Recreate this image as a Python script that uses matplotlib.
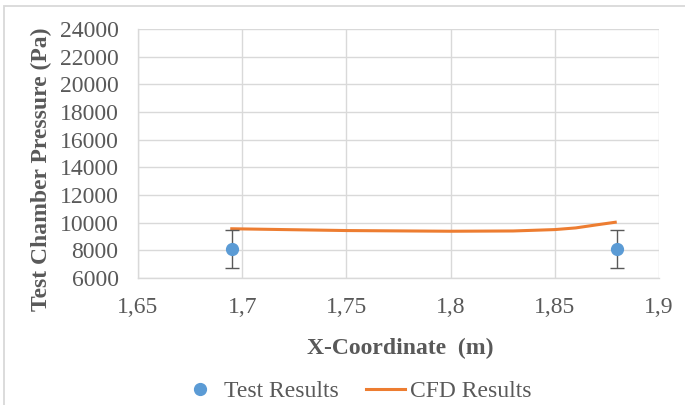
import matplotlib
matplotlib.use("Agg")
import matplotlib.pyplot as plt
from matplotlib.ticker import FuncFormatter
from matplotlib.patches import Rectangle
from matplotlib.lines import Line2D

# Measured pressures with error
test_x = [1.695, 1.880]
test_p = [8100, 8100]
test_err = [1400, 1400]

# CFD pressure along the test chamber
cfd_x = [1.695, 1.72, 1.75, 1.78, 1.80, 1.83, 1.85, 1.86, 1.87, 1.879]
cfd_p = [9560, 9500, 9430, 9400, 9380, 9400, 9500, 9620, 9840, 10030]

x_ticks = [1.65, 1.70, 1.75, 1.80, 1.85, 1.90]
y_ticks = list(range(6000, 24001, 2000))

grey = "#595959"
grid = "#d9d9d9"
blue = "#5b9bd5"
orange = "#ed7d31"
serif = ["Liberation Serif", "DejaVu Serif"]
fs = 17

W, H = 685, 405
fig = plt.figure(figsize=(W / 100, H / 100), dpi=100)
fig.patches.append(Rectangle((4 / W, -0.01), 1.0, 1 - 6 / H + 0.01,
                             transform=fig.transFigure, fill=False,
                             edgecolor=grid, linewidth=1.3))

ax = fig.add_axes([138 / W, 1 - 278 / H, (659 - 138) / W, (278 - 29) / H])

ax.plot(cfd_x, cfd_p, color=orange, linewidth=2.2, zorder=3)
ax.errorbar(test_x, test_p, yerr=test_err, fmt="o", color=blue,
            markersize=8.5, ecolor=grey, elinewidth=1, capsize=5, capthick=1,
            zorder=4)

ax.set_xlim(1.65, 1.90)
ax.set_ylim(6000, 24000)
ax.set_xticks(x_ticks)
ax.set_yticks(y_ticks)
ax.xaxis.set_major_formatter(FuncFormatter(lambda v, p: f"{v:g}".replace(".", ",")))
ax.yaxis.set_major_formatter(FuncFormatter(lambda v, p: f"{int(v)}"))

ax.grid(True, color=grid, linewidth=1)
ax.set_axisbelow(True)
for side in ["top", "right"]:
    ax.spines[side].set_visible(False)
for side in ["left", "bottom"]:
    ax.spines[side].set_color(grid)
    ax.spines[side].set_linewidth(1)
ax.tick_params(length=0, colors=grey, labelsize=fs)
ax.tick_params(axis="y", pad=14)
ax.tick_params(axis="x", pad=14)
for lbl in ax.get_xticklabels() + ax.get_yticklabels():
    lbl.set_fontfamily(serif)

ax.set_xlabel("X-Coordinate  (m)", fontfamily=serif, fontsize=fs,
              fontweight="bold", color=grey)
ax.set_ylabel("Test Chamber Pressure (Pa)", fontfamily=serif, fontsize=fs,
              fontweight="bold", color=grey)
ax.xaxis.set_label_coords((400 - 138) / (659 - 138), -(338 - 278) / (278 - 29))
ax.yaxis.set_label_coords(-(138 - 52) / (659 - 138), (278 - 169) / (278 - 29))

handles = [
    Line2D([], [], marker="o", linestyle="none", color=blue, markersize=8.5),
    Line2D([], [], color=orange, linewidth=2.2),
]
leg = fig.legend(handles, ["Test Results", "CFD Results"],
                 loc="center", bbox_to_anchor=(356 / W, 1 - 391 / H), ncol=2,
                 frameon=False, prop={"family": serif, "size": fs},
                 columnspacing=1.15, handlelength=1.65, handletextpad=0.2,
                 borderpad=0, borderaxespad=0)
for t in leg.get_texts():
    t.set_color(grey)

fig.savefig("out.png", dpi=100)
